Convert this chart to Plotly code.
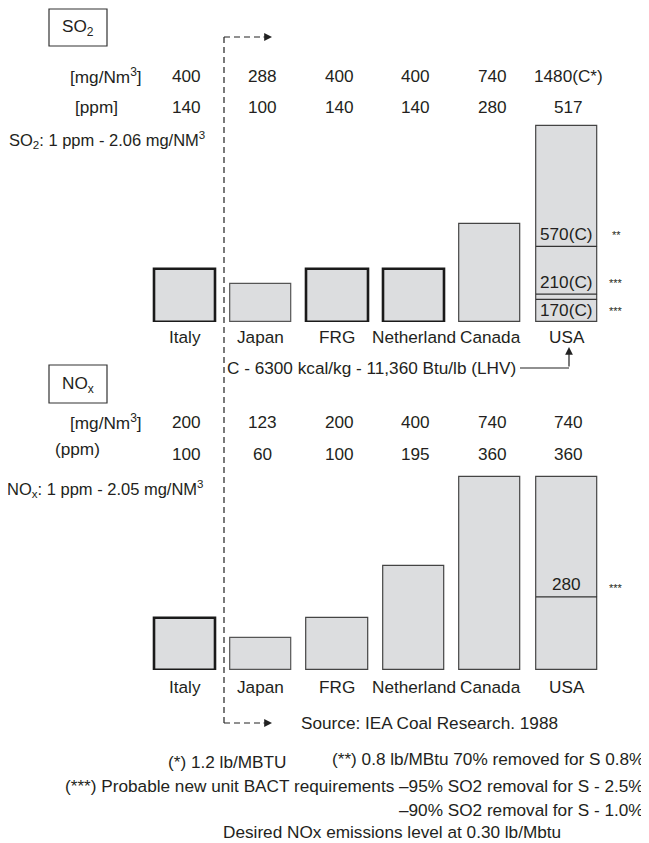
import plotly.graph_objects as go

# ---------------- data ----------------
countries = ["Italy", "Japan", "FRG", "Netherland", "Canada", "USA"]

so2_mg = [400, 288, 400, 400, 740, 1480]
so2_mg_labels = ["400", "288", "400", "400", "740", "1480(C*)"]
so2_ppm = [140, 100, 140, 140, 280, 517]
so2_usa_levels = [570, 210, 170]
so2_usa_level_labels = ["570(C)", "210(C)", "170(C)"]
so2_usa_level_marks = ["**", "***", "***"]

nox_mg = [200, 123, 200, 400, 740, 740]
nox_ppm = [100, 60, 100, 195, 360, 360]
nox_usa_level = 280
nox_usa_level_mark = "***"

footnotes = [
    "(*) 1.2 lb/MBTU",
    "(**) 0.8 lb/MBtu 70% removed for S 0.8%",
    "(***) Probable new unit BACT requirements \u201395% SO2 removal for S - 2.5%",
    "\u201390% SO2 removal for S - 1.0%",
    "Desired NOx emissions level at 0.30 lb/Mbtu",
]

# ---------------- styling ----------------
# the page body has an 8px margin, so the figure is offset by 8px
OFF = 8
W, H = 649 - OFF, 843 - OFF
FONT = "Liberation Sans, Arial, Helvetica, sans-serif"
TXT = "#231f20"
FS = 17.2
FS_NOTE = 17.2
FILL = "#dcdddf"
so2_line_w = [2.6, 1.2, 2.6, 2.6, 1.2, 1.2]
nox_line_w = [2.6, 1.2, 1.2, 1.2, 1.2, 1.2]
so2_line_c = ["#1a1a1a", "#555555", "#1a1a1a", "#1a1a1a", "#444444", "#444444"]
nox_line_c = ["#1a1a1a", "#555555", "#444444", "#444444", "#444444", "#444444"]


def px(x):
    return (x - OFF) / W


def py(y):
    return 1 - (y - OFF) / H


# axis geometry (pixels in the page)
x_left, x_right = 146.3, 604.7
so2_base, so2_top = 322, 122
nox_base, nox_top = 670, 470
so2_range = [0, 1509]
nox_range = [0, 766]

fig = go.Figure()
fig.add_trace(go.Bar(
    x=countries, y=so2_mg, width=0.8, xaxis="x", yaxis="y",
    marker=dict(color=FILL, line=dict(color=so2_line_c, width=so2_line_w)),
    showlegend=False, hoverinfo="skip",
))
fig.add_trace(go.Bar(
    x=countries, y=nox_mg, width=0.8, xaxis="x2", yaxis="y2",
    marker=dict(color=FILL, line=dict(color=nox_line_c, width=nox_line_w)),
    showlegend=False, hoverinfo="skip",
))

ax_common = dict(showgrid=False, zeroline=False, showline=False,
                 showticklabels=False, ticks="", fixedrange=True)
fig.update_layout(
    width=W, height=H,
    margin=dict(l=0, r=0, t=0, b=0),
    paper_bgcolor="white", plot_bgcolor="white",
    font=dict(family=FONT, size=FS, color=TXT),
    bargap=0,
    xaxis=dict(domain=[px(x_left), px(x_right)], anchor="y",
               categoryorder="array", categoryarray=countries,
               range=[-0.5, 5.5], **ax_common),
    yaxis=dict(domain=[py(so2_base), py(so2_top)], anchor="x",
               range=so2_range, **ax_common),
    xaxis2=dict(domain=[px(x_left), px(x_right)], anchor="y2",
                categoryorder="array", categoryarray=countries,
                range=[-0.5, 5.5], **ax_common),
    yaxis2=dict(domain=[py(nox_base), py(nox_top)], anchor="x2",
                range=nox_range, **ax_common),
)

ann = []
shapes = []


def text(x, y, s, xanchor="center", size=FS, xref="paper", xshift=0, yref="paper", yshift=0):
    ann.append(dict(x=x, y=y, xref=xref, yref=yref, text=s, showarrow=False,
                    xanchor=xanchor, yanchor="middle", xshift=xshift, yshift=yshift,
                    font=dict(size=size, family=FONT, color=TXT)))


def arrow(x_tip, y_tip, dx, dy):
    # dx, dy: tail offset in pixels from the tip (screen coordinates, y down)
    ann.append(dict(x=px(x_tip), y=py(y_tip), xref="paper", yref="paper",
                    ax=dx, ay=dy, axref="pixel", ayref="pixel", text="",
                    showarrow=True, arrowhead=2, arrowsize=1.3, arrowwidth=1.2,
                    arrowcolor="#222"))


# ----- SO2 panel -----
shapes.append(dict(type="rect", xref="paper", yref="paper",
                   x0=px(49), x1=px(107), y0=py(46), y1=py(9),
                   line=dict(color="#333", width=1.2)))
text(px(78), py(28), "SO<sub>2</sub>")
text(px(106), py(76), "[mg/Nm<sup>3</sup>]")
text(px(96), py(107), "[ppm]")
text(px(7), py(140), "SO<sub>2</sub>: 1 ppm - 2.06 mg/NM<sup>3</sup>", xanchor="left", size=16.5)
for c, m, p in zip(countries, so2_mg_labels, so2_ppm):
    text(c, py(76), m, xref="x", xshift=2)
    text(c, py(107), str(p), xref="x", xshift=2)
    text(c, py(337), c, xref="x")

# USA level lines and labels
for i, (lv, lab, mk) in enumerate(zip(so2_usa_levels, so2_usa_level_labels, so2_usa_level_marks)):
    shapes.append(dict(type="line", xref="x", yref="y", x0=4.6, x1=5.4, y0=lv, y1=lv,
                       line=dict(color="#333", width=1.2)))
    ys = 12 if i < 2 else -11
    text("USA", lv, lab, xref="x", yref="y", yshift=ys)
    text(px(616), lv, mk, xref="paper", yref="y", yshift=ys - 1, size=11)

# C annotation
text(px(225), py(368), "C - 6300 kcal/kg - 11,360 Btu/lb (LHV)", xanchor="left")
shapes.append(dict(type="line", xref="paper", yref="paper",
                   x0=px(520), x1=px(569), y0=py(368), y1=py(368),
                   line=dict(color="#222", width=1.2)))
arrow(569, 347, 0, 21)

# ----- NOx panel -----
shapes.append(dict(type="rect", xref="paper", yref="paper",
                   x0=px(49), x1=px(107), y0=py(403), y1=py(365),
                   line=dict(color="#333", width=1.2)))
text(px(78), py(385), "NO<sub>x</sub>")
text(px(106), py(422), "[mg/Nm<sup>3</sup>]")
text(px(77), py(449), "(ppm)")
text(px(5), py(489), "NO<sub>x</sub>: 1 ppm - 2.05 mg/NM<sup>3</sup>", xanchor="left", size=16.5)
for c, m, p in zip(countries, nox_mg, nox_ppm):
    text(c, py(422), str(m), xref="x2", xshift=2)
    text(c, py(454), str(p), xref="x2", xshift=2)
    text(c, py(687), c, xref="x2")

shapes.append(dict(type="line", xref="x2", yref="y2", x0=4.6, x1=5.4,
                   y0=nox_usa_level, y1=nox_usa_level, line=dict(color="#333", width=1.2)))
text("USA", nox_usa_level, str(nox_usa_level), xref="x2", yref="y2", yshift=13)
text(px(616), nox_usa_level, nox_usa_level_mark, yref="y2", yshift=9, size=11)

# ----- dashed bracket -----
dash = dict(color="#222", width=1.2, dash="6px,4px")
shapes.append(dict(type="line", xref="paper", yref="paper",
                   x0=px(224), x1=px(224), y0=py(37), y1=py(723), line=dash))
for yy in (37, 723):
    shapes.append(dict(type="line", xref="paper", yref="paper",
                       x0=px(224), x1=px(262), y0=py(yy), y1=py(yy), line=dash))
    arrow(272, yy, -10, 0)

text(px(299), py(723), "Source: IEA Coal Research. 1988", xanchor="left")

# ----- footnotes -----
text(px(227), py(762), footnotes[0], size=FS_NOTE)
text(px(646), py(759), footnotes[1], xanchor="right", size=FS_NOTE)
text(px(646), py(786), footnotes[2], xanchor="right", size=FS_NOTE)
text(px(646), py(810), footnotes[3], xanchor="right", size=FS_NOTE)
text(px(392), py(832), footnotes[4], size=FS_NOTE)

fig.update_layout(annotations=ann, shapes=shapes)
fig.write_html("out.html")
